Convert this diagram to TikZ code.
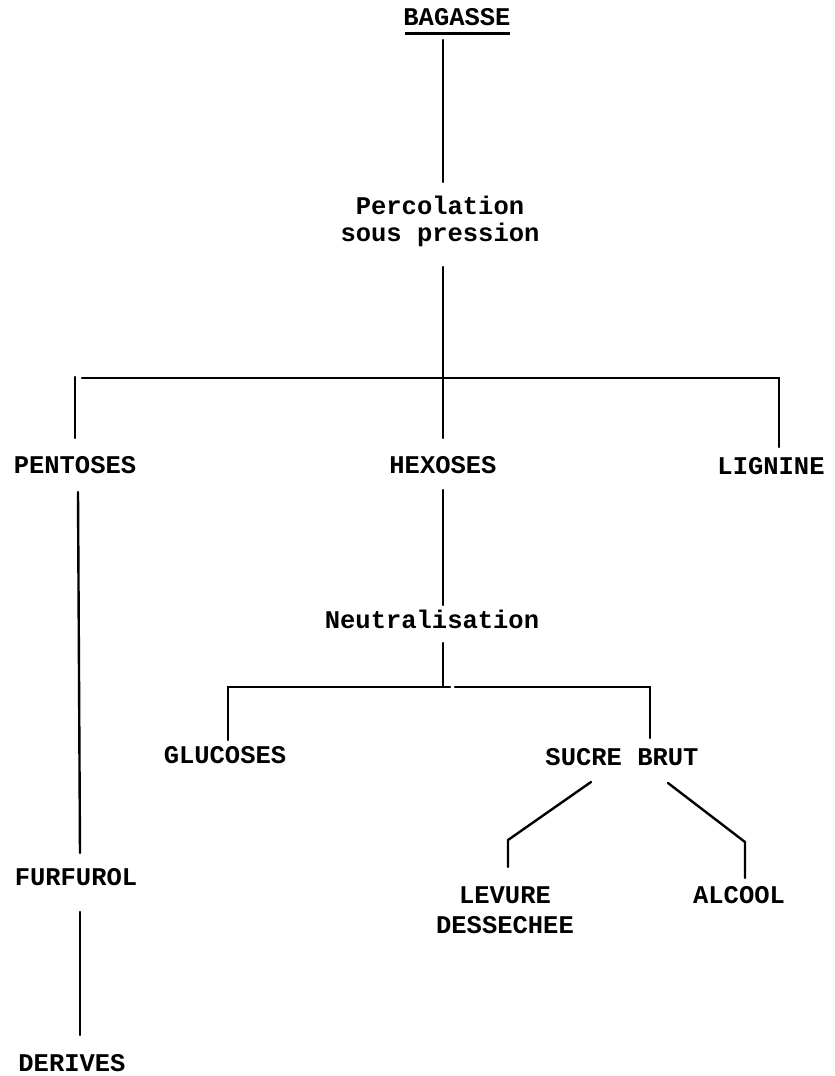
\documentclass[tikz,border=0pt]{standalone}
\usepackage{fontspec}
\setmonofont{Liberation Mono}
\begin{document}
\begin{tikzpicture}[x=1pt,y=-1pt,
  lbl/.style={font=\ttfamily\bfseries\fontsize{25.5}{28}\selectfont, inner sep=0pt, anchor=base, align=center},
  con/.style={line width=2.4pt, line cap=round, line join=miter}]
\useasboundingbox (0,0) rectangle (835,1076);
% nodes
\node[lbl] (bagasse) at (457,25) {BAGASSE};
\node[lbl, font=\ttfamily\bfseries\fontsize{25.5}{27}\selectfont] (perco) at (440,241) {Percolation\\sous pression};
\node[lbl] (pentoses) at (75,473) {PENTOSES};
\node[lbl] (hexoses) at (443,473) {HEXOSES};
\node[lbl] (lignine) at (771,474) {LIGNINE};
\node[lbl] (neutral) at (432,628) {Neutralisation};
\node[lbl] (glucoses) at (225,763) {GLUCOSES};
\node[lbl] (sucre) at (622,765) {SUCRE BRUT};
\node[lbl, font=\ttfamily\bfseries\fontsize{25.5}{30}\selectfont] (levure) at (505,933) {LEVURE\\DESSECHEE};
\node[lbl] (alcool) at (739,903) {ALCOOL};
\node[lbl] (furfurol) at (76,885) {FURFUROL};
\node[lbl] (derives) at (72,1071) {DERIVES};
% coordinates
\coordinate (ul1) at (405,33); \coordinate (ul2) at (510,33);
\coordinate (t1) at (443,40); \coordinate (t2) at (443,182);
\coordinate (t3) at (443,267); \coordinate (t4) at (443,438);
\coordinate (hL) at (82,378); \coordinate (hR) at (779,378); \coordinate (lgTop) at (779,447);
\coordinate (pA) at (75,377); \coordinate (pB) at (75,438);
\coordinate (pC) at (78,492); \coordinate (pD) at (80,853);
\coordinate (fA) at (80,912); \coordinate (fB) at (80,1035);
\coordinate (hA) at (443,490); \coordinate (hB) at (443,605);
\coordinate (nA) at (443,643); \coordinate (nB) at (443,687);
\coordinate (gA) at (228,740); \coordinate (gB) at (228,687); \coordinate (gC) at (450,687);
\coordinate (sA) at (455,687); \coordinate (sB) at (650,687); \coordinate (sC) at (650,738);
\coordinate (lA) at (591,782); \coordinate (lB) at (508,840); \coordinate (lC) at (508,867);
\coordinate (aA) at (668,783); \coordinate (aB) at (745,842); \coordinate (aC) at (745,878);
% connectors
\draw[line width=3pt] (ul1) -- (ul2);
\draw[con] (t1) -- (t2);
\draw[con] (t3) -- (t4);
\draw[con] (hL) -- (hR) -- (lgTop);
\draw[con] (pA) -- (pB);
\draw[con] (pC) -- (pD);
\draw[con] (fA) -- (fB);
\draw[con] (hA) -- (hB);
\draw[con] (nA) -- (nB);
\draw[con] (gA) -- (gB) -- (gC);
\draw[con] (sA) -- (sB) -- (sC);
\draw[con] (lA) -- (lB) -- (lC);
\draw[con] (aA) -- (aB) -- (aC);
\end{tikzpicture}
\end{document}
